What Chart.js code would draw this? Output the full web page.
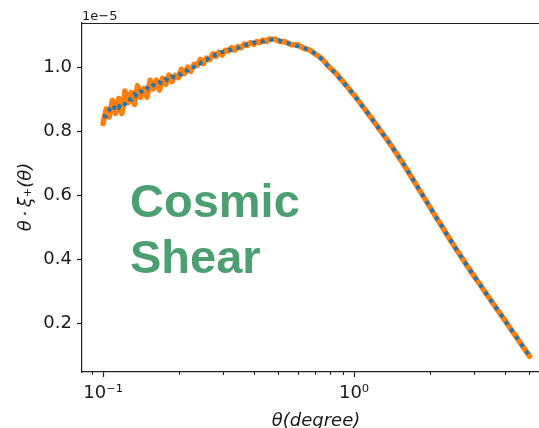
<!DOCTYPE html>
<html>
<head>
<meta charset="utf-8">
<script src="https://cdn.jsdelivr.net/npm/chart.js@4.4.0/dist/chart.umd.min.js"></script>
<style>
    html, body { margin: 0; padding: 0; background: #ffffff; overflow: hidden; }
    #graphCanvas { display: block; }
</style>
</head>
<body>
<canvas id="graphCanvas" width="539" height="428"></canvas>
<script>
// theta in degrees (finer sampling at small angles)
var thetaDeg = [
    0.1, 0.1029, 0.1059, 0.109, 0.1122, 0.1155, 0.1189, 0.1223, 0.1259, 0.1296,
    0.1334, 0.1372, 0.1413, 0.1454, 0.1496, 0.154, 0.1585, 0.1631, 0.1679, 0.1728,
    0.1778, 0.183, 0.1884, 0.1939, 0.1995, 0.2054, 0.2113, 0.2175, 0.2239, 0.2304,
    0.2371, 0.2441, 0.2512, 0.2585, 0.2661, 0.2738, 0.2818, 0.2901, 0.2985, 0.3072,
    0.3162, 0.3255, 0.335, 0.3447, 0.3548, 0.3652, 0.3758, 0.3868, 0.3981, 0.4097,
    0.4217, 0.434, 0.4467, 0.4597, 0.4732, 0.487, 0.5012,
    0.5309, 0.5623, 0.5957, 0.631, 0.6683, 0.7079, 0.7499, 0.7943, 0.8414, 0.8913,
    0.9441, 1.0, 1.059, 1.122, 1.189, 1.259, 1.334, 1.413, 1.496, 1.585,
    1.679, 1.778, 1.884, 1.995, 2.113, 2.239, 2.371, 2.512, 2.661, 2.818,
    2.985, 3.162, 3.35, 3.548, 3.758, 3.981, 4.217, 4.467, 4.732, 5.012
];

// theta * xi_+ (units of 1e-5), orange solid
var xiOrange = [
    0.824, 0.870, 0.845, 0.897, 0.856, 0.903, 0.856, 0.926, 0.889, 0.922,
    0.884, 0.943, 0.906, 0.934, 0.907, 0.960, 0.933, 0.960, 0.929, 0.966,
    0.947, 0.976, 0.956, 0.975, 0.968, 0.994, 0.981, 1.001, 0.988, 1.010,
    1.006, 1.025, 1.012, 1.029, 1.024, 1.042, 1.035, 1.048, 1.039, 1.054,
    1.051, 1.062, 1.054, 1.065, 1.061, 1.073, 1.069, 1.078, 1.072, 1.081,
    1.078, 1.086, 1.081, 1.089, 1.088, 1.088, 1.082,
    1.080, 1.071, 1.071, 1.060, 1.054, 1.040, 1.025, 1.002, 0.984, 0.961,
    0.938, 0.914, 0.888, 0.862, 0.835, 0.808, 0.781, 0.753, 0.724, 0.694,
    0.662, 0.630, 0.598, 0.566, 0.534, 0.503, 0.471, 0.440, 0.410, 0.380,
    0.351, 0.323, 0.294, 0.266, 0.238, 0.210, 0.181, 0.153, 0.124, 0.096
];

// theta * xi_+ (units of 1e-5), blue dotted
var xiBlue = [
    0.847, 0.847, 0.868, 0.859, 0.884, 0.875, 0.893, 0.885, 0.903, 0.899,
    0.916, 0.909, 0.925, 0.921, 0.936, 0.930, 0.945, 0.941, 0.953, 0.949,
    0.963, 0.958, 0.971, 0.968, 0.980, 0.978, 0.992, 0.990, 1.002, 1.001,
    1.014, 1.012, 1.024, 1.023, 1.033, 1.031, 1.041, 1.040, 1.049, 1.048,
    1.056, 1.054, 1.061, 1.060, 1.068, 1.066, 1.073, 1.072, 1.078, 1.077,
    1.082, 1.081, 1.086, 1.085, 1.087, 1.084, 1.085,
    1.077, 1.074, 1.066, 1.062, 1.052, 1.041, 1.023, 1.001, 0.982, 0.960,
    0.937, 0.914, 0.887, 0.862, 0.835, 0.809, 0.781, 0.753, 0.724, 0.694,
    0.662, 0.630, 0.598, 0.566, 0.534, 0.503, 0.471, 0.440, 0.410, 0.380,
    0.351, 0.323, 0.294, 0.266, 0.238, 0.210, 0.181, 0.153, 0.124, 0.096
];

var yTicks = [0.2, 0.4, 0.6, 0.8, 1.0];
var xMajorTicks = [0.1, 1];
var xMajorLabels = ['10\u207B\u00B9', '10\u2070'];
var xMinorTicks = [0.09, 0.2, 0.3, 0.4, 0.5, 0.6, 0.7, 0.8, 0.9, 2, 3, 4, 5];

var axisColor = '#222222';
var textColor = '#1a1a1a';

function toPoints(xs, ys) {
    var pts = [];
    for (var i in xs) {
        pts.push({ x: xs[i], y: ys[i] });
    }
    return pts;
}

var extras = {
    id: 'extras',
    afterDraw: function (chart) {
        var ctx = chart.ctx;
        var a = chart.chartArea;
        var xs = chart.scales.x;
        ctx.save();

        // top spine
        ctx.strokeStyle = axisColor;
        ctx.lineWidth = 1.2;
        ctx.beginPath();
        ctx.moveTo(a.left, a.top + 0.5);
        ctx.lineTo(a.right, a.top + 0.5);
        ctx.stroke();

        // minor ticks on log axis
        ctx.lineWidth = 1;
        for (var i in xMinorTicks) {
            var px = Math.round(xs.getPixelForValue(xMinorTicks[i])) + 0.5;
            ctx.beginPath();
            ctx.moveTo(px, a.bottom);
            ctx.lineTo(px, a.bottom + 3);
            ctx.stroke();
        }

        // offset text
        ctx.fillStyle = textColor;
        ctx.font = '13px "DejaVu Sans"';
        ctx.textAlign = 'left';
        ctx.textBaseline = 'alphabetic';
        ctx.fillText('1e\u22125', 82, 20);

        // axis titles
        ctx.font = 'italic 18px "DejaVu Sans"';
        ctx.textAlign = 'center';
        ctx.fillText('\u03B8(degree)', 316, 426);

        ctx.save();
        ctx.translate(31, 197);
        ctx.rotate(-Math.PI / 2);
        ctx.fillText('\u03B8\u2009\u00B7\u2009\u03BE\u208A(\u03B8)', 0, 0);
        ctx.restore();

        // annotation
        ctx.fillStyle = '#4c9f70';
        ctx.font = 'bold 47px "Liberation Sans"';
        ctx.textAlign = 'left';
        ctx.fillText('Cosmic', 130, 217);
        ctx.fillText('Shear', 130, 273);

        ctx.restore();
    }
};

var chartdata = {
    datasets: [
        {
            label: 'blue',
            data: toPoints(thetaDeg, xiBlue),
            borderColor: '#1f77b4',
            borderWidth: 4,
            borderDash: [4, 5],
            borderCapStyle: 'butt',
            pointRadius: 0,
            fill: false,
            order: 0
        },
        {
            label: 'orange',
            data: toPoints(thetaDeg, xiOrange),
            borderColor: '#ff7f0e',
            borderWidth: 5.5,
            borderJoinStyle: 'round',
            borderCapStyle: 'round',
            pointRadius: 0,
            fill: false,
            order: 1
        }
    ]
};

var graphTarget = document.getElementById('graphCanvas');

var lineGraph = new Chart(graphTarget, {
    type: 'line',
    data: chartdata,
    plugins: [extras],
    options: {
        responsive: false,
        animation: false,
        devicePixelRatio: 1,
        layout: { padding: { top: 23, right: 0, bottom: 0, left: 0 } },
        plugins: {
            legend: { display: false },
            tooltip: { enabled: false }
        },
        elements: { line: { tension: 0 } },
        scales: {
            x: {
                type: 'logarithmic',
                min: 0.08245,
                max: 5.458,
                afterFit: function (s) { s.height = 56; },
                afterBuildTicks: function (s) {
                    s.ticks = xMajorTicks.map(function (v) { return { value: v }; });
                },
                ticks: {
                    autoSkip: false,
                    maxRotation: 0,
                    padding: 6,
                    color: textColor,
                    font: { family: 'DejaVu Sans', size: 18 },
                    callback: function (v) {
                        var i = xMajorTicks.indexOf(v);
                        return i >= 0 ? xMajorLabels[i] : '';
                    }
                },
                grid: { drawOnChartArea: false, tickLength: 5, tickColor: axisColor, tickWidth: 1.2 },
                border: { color: axisColor, width: 1.2 }
            },
            y: {
                min: 0.047,
                max: 1.139,
                afterFit: function (s) { s.width = 82; },
                afterBuildTicks: function (s) {
                    s.ticks = yTicks.map(function (v) { return { value: v }; });
                },
                ticks: {
                    padding: 5,
                    color: textColor,
                    font: { family: 'DejaVu Sans', size: 18 },
                    callback: function (v) { return v.toFixed(1); }
                },
                grid: { drawOnChartArea: false, tickLength: 5, tickColor: axisColor, tickWidth: 1.2 },
                border: { color: axisColor, width: 1.2 }
            }
        }
    }
});
</script>
</body>
</html>
